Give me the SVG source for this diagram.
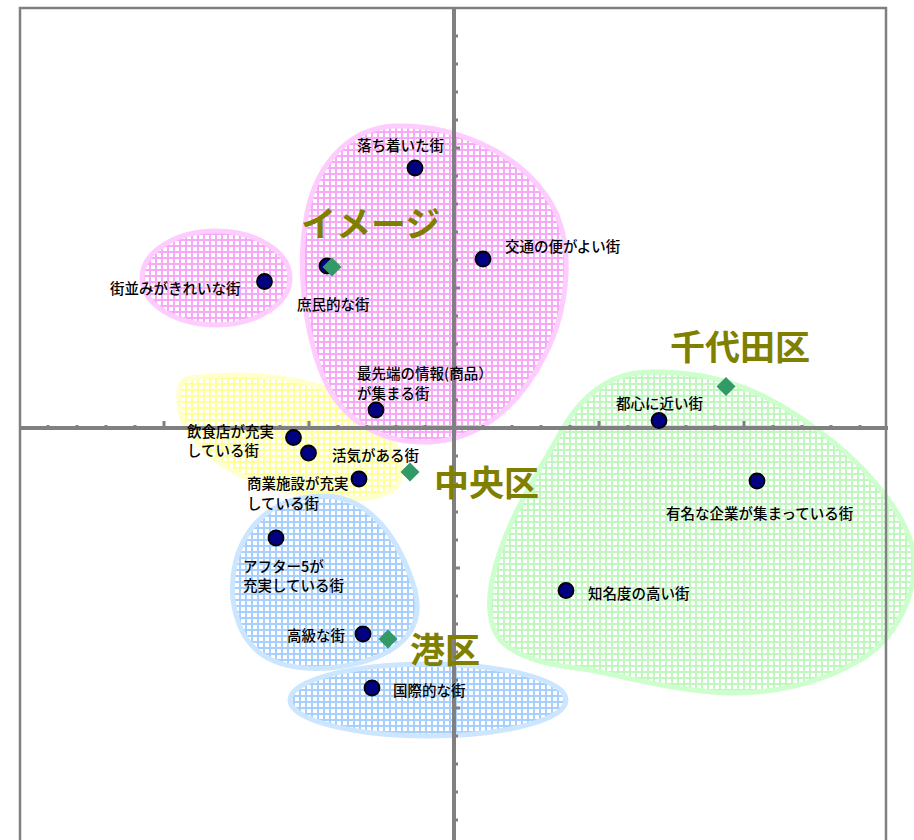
<svg xmlns="http://www.w3.org/2000/svg" width="914" height="840" viewBox="0 0 914 840">
<style>
.lbl{font-family:"Noto Sans CJK JP","Noto Sans CJK SC",sans-serif;font-size:14.5px;font-weight:500;fill:#000}
.big{font-family:"Noto Sans CJK JP","Noto Sans CJK SC",sans-serif;font-size:35px;font-weight:bold;fill:#808000}
.dot{fill:#000080;stroke:#000;stroke-width:1.8}
.dia{fill:#339966}
.ax{stroke:#808080;fill:none}
</style>
<defs>
<pattern id="hPink" width="6" height="6" patternUnits="userSpaceOnUse"><rect width="6" height="6" fill="#f7a8f7"/><rect x="1" y="1" width="4" height="4" fill="#fff"/></pattern>
<pattern id="hYel" width="6" height="6" patternUnits="userSpaceOnUse"><rect width="6" height="6" fill="#ffff99"/><rect x="1" y="1" width="4" height="4" fill="#fff"/></pattern>
<pattern id="hBlue" width="6" height="6" patternUnits="userSpaceOnUse"><rect width="6" height="6" fill="#a8d0ff"/><rect x="1" y="1" width="4" height="4" fill="#fff"/></pattern>
<pattern id="hGreen" width="6" height="6" patternUnits="userSpaceOnUse"><rect width="6" height="6" fill="#bff7bf"/><rect x="1" y="1" width="4" height="4" fill="#fff"/></pattern>
<path id="dm" d="M0,-9.5 L9.5,0 L0,9.5 L-9.5,0 Z"/>
</defs>
<rect width="914" height="840" fill="#fff"/>

<g id="regions">
<path id="r-yellow" d="M190,378 C250,370 320,378 360,405 C395,428 410,470 395,488 C375,505 310,500 265,485 C220,470 185,440 180,410 C177,392 180,380 190,378 Z" fill="url(#hYel)" stroke="#ffffcc" stroke-width="5"/>
<path id="r-pink" d="M395,126 C450,124 520,150 552,205 C575,245 568,310 545,355 C520,405 480,440 430,442 C380,444 345,420 327,385 C305,340 298,270 305,225 C312,170 345,128 395,126 Z" fill="url(#hPink)" stroke="#ffccff" stroke-width="5"/>
<ellipse id="r-pink2" cx="216" cy="278" rx="74" ry="47" fill="url(#hPink)" stroke="#ffccff" stroke-width="5"/>
<path id="r-blue" d="M320,496 C370,494 400,540 415,590 C425,630 400,660 330,668 C270,672 240,650 233,600 C228,550 255,498 320,496 Z" fill="url(#hBlue)" stroke="#cce6ff" stroke-width="5"/>
<ellipse id="r-blue2" cx="428" cy="700" rx="138" ry="36" fill="url(#hBlue)" stroke="#cce6ff" stroke-width="5"/>
<path id="r-green" d="M650,372 C720,370 770,395 815,428 C860,460 900,505 912,545 C922,590 895,640 860,660 C820,685 770,693 733,693 C680,692 630,678 590,670 C550,665 520,660 500,640 C488,625 488,600 492,580 C505,520 540,470 562,430 C585,390 615,372 650,372 Z" fill="url(#hGreen)" stroke="#ccffcc" stroke-width="5"/>
</g>

<g id="axes">
<path class="ax" stroke-width="2.5" d="M20,841 V8 H886 V841"/>
<path class="ax" stroke-width="4" d="M19,428 H888 M454,8 V841"/>
<path class="ax" stroke-width="3" d="M48,428V425 M77,428V425 M106,428V425 M135,428V425 M164,428V421 M193,428V425 M222,428V425 M251,428V425 M280,428V425 M309,428V421 M338,428V425 M367,428V425 M396,428V425 M425,428V425 M483,428V425 M512,428V425 M541,428V425 M570,428V425 M599,428V421 M628,428V425 M657,428V425 M686,428V425 M715,428V425 M744,428V421 M773,428V425 M802,428V425 M831,428V425 M860,428V425"/>
<path class="ax" stroke-width="3" d="M454,36H458 M454,64H458 M454,92H458 M454,120H458 M454,148H460 M454,176H458 M454,204H458 M454,232H458 M454,260H458 M454,288H460 M454,316H458 M454,344H458 M454,372H458 M454,400H458 M454,456H458 M454,484H458 M454,512H458 M454,540H458 M454,568H460 M454,596H458 M454,624H458 M454,652H458 M454,680H458 M454,708H460 M454,736H458 M454,764H458 M454,792H458 M454,820H458"/>
</g>

<g id="connectors"></g>

<g id="n-ochitsuki"><circle class="dot" cx="415" cy="168" r="7.5"/><text class="lbl" x="357" y="150.5">落ち着いた街</text></g>
<g id="n-koutsu"><circle class="dot" cx="483" cy="259" r="7.5"/><text class="lbl" x="505" y="251.5">交通の便がよい街</text></g>
<g id="n-shomin"><circle class="dot" cx="327" cy="266" r="7.5"/><use href="#dm" class="dia" x="332" y="267"/><text class="lbl" x="297" y="309.5">庶民的な街</text></g>
<g id="n-machinami"><circle class="dot" cx="264.5" cy="281.5" r="7.5"/><text class="lbl" x="110" y="293.5">街並みがきれいな街</text></g>
<g id="n-saisentan"><circle class="dot" cx="376" cy="410" r="7.5"/><text class="lbl" x="357" y="378.5">最先端の情報(商品）</text><text class="lbl" x="357" y="399">が集まる街</text></g>
<g id="n-inshoku"><circle class="dot" cx="293.5" cy="437.5" r="7.5"/><text class="lbl" x="187" y="436.5">飲食店が充実</text><text class="lbl" x="187" y="456">している街</text></g>
<g id="n-kakki"><circle class="dot" cx="308.5" cy="453" r="7.5"/><text class="lbl" x="332" y="460.5">活気がある街</text></g>
<g id="n-shougyou"><circle class="dot" cx="359" cy="479" r="7.5"/><text class="lbl" x="247" y="488.5">商業施設が充実</text><text class="lbl" x="247" y="509">している街</text></g>
<g id="n-chuou"><use href="#dm" class="dia" x="410" y="472"/><text class="big" x="434" y="495.5">中央区</text></g>
<g id="n-image"><text class="big" x="301" y="236.5">イメージ</text></g>
<g id="n-chiyoda"><use href="#dm" class="dia" x="726" y="386.5"/><text class="big" x="670" y="359.5">千代田区</text></g>
<g id="n-toshin"><circle class="dot" cx="659" cy="420.5" r="7.5"/><text class="lbl" x="616" y="409">都心に近い街</text></g>
<g id="n-yuumei"><circle class="dot" cx="757" cy="481" r="7.5"/><text class="lbl" x="666" y="519">有名な企業が集まっている街</text></g>
<g id="n-chimeido"><circle class="dot" cx="566" cy="590.5" r="7.5"/><text class="lbl" x="588" y="599">知名度の高い街</text></g>
<g id="n-after5"><circle class="dot" cx="276" cy="538" r="7.5"/><text class="lbl" x="243" y="572">アフター5が</text><text class="lbl" x="243" y="591">充実している街</text></g>
<g id="n-koukyu"><circle class="dot" cx="363" cy="634" r="7.5"/><text class="lbl" x="287" y="640.5">高級な街</text></g>
<g id="n-minato"><use href="#dm" class="dia" x="388" y="639"/><text class="big" x="410" y="662.5">港区</text></g>
<g id="n-kokusai"><circle class="dot" cx="372" cy="688" r="7.5"/><text class="lbl" x="393" y="695.5">国際的な街</text></g>
</svg>
